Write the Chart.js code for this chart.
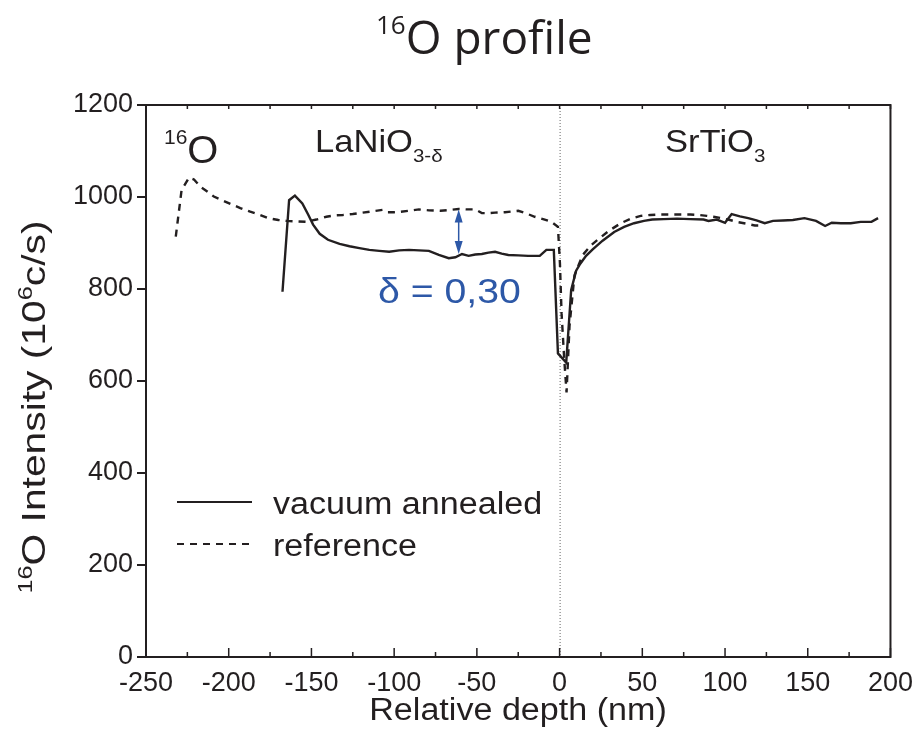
<!DOCTYPE html>
<html>
<head>
<meta charset="utf-8">
<script src="https://cdn.jsdelivr.net/npm/chart.js@4.4.0/dist/chart.umd.min.js"></script>
<style>
html, body { margin: 0; padding: 0; background: #fff; }
#wrap { width: 923px; height: 732px; position: relative; }
</style>
</head>
<body>
<div id="wrap"><canvas id="profileChart"></canvas></div>
<script>
// depth (nm) / 16O intensity (10^6 c/s)
const depth_vacuum = [-167.5, -163.5, -160, -155.5, -152, -149, -145, -140, -133, -127, -121, -115, -109, -103, -97, -91, -85, -79, -73, -67, -63, -59, -55, -51, -47, -43, -39, -35, -31, -25, -19, -12, -8, -3.5, -1, 4, 7, 10, 12.5, 16, 20, 26, 33, 39, 45, 51, 56, 63, 71, 79, 87, 90, 95, 100, 104, 109, 114, 119, 124, 129, 135, 141, 148, 155, 160.5, 164.5, 170, 176, 182, 188.5, 192.5];
const intensity_vacuum = [794, 993, 1003, 986, 962, 940, 920, 907, 898, 893, 889, 885, 883, 881, 884, 885, 884, 883, 874, 867, 869, 876, 872, 875, 876, 879, 881, 877, 874, 873, 872, 872, 885, 885, 660, 640, 798, 840, 855, 872, 886, 905, 924, 935, 943, 948, 951, 952, 953, 952, 951, 948, 951, 944, 963, 958, 954, 949, 943, 948, 949, 950, 954, 948, 937, 944, 943, 943, 946, 946, 954];

const depth_reference = [-232, -228.5, -224, -221, -217, -213, -209, -204, -199, -193, -187, -181, -176, -170, -165, -159, -153, -147, -141, -136, -131, -125, -119, -113, -107, -104, -100, -96, -91, -85, -79, -72, -66, -61, -56, -51, -47, -43, -39, -33, -25, -20, -15, -10, -5, -1, 0.2, 1.2, 2.7, 4.2, 6, 9, 14, 19, 24, 30, 37, 43, 49, 55, 61, 67, 73, 79, 84, 89, 93, 98, 103, 107, 113, 118, 122];
const intensity_reference = [914, 1015, 1042, 1038, 1022, 1012, 1001, 993, 985, 976, 968, 961, 954, 950, 948, 947, 946, 951, 957, 960, 961, 963, 966, 969, 972, 967, 967, 968, 970, 973, 971, 970, 972, 974, 973, 973, 965, 965, 966, 967, 970, 964, 957, 952, 946, 935, 856, 747, 653, 575, 720, 830, 874, 895, 910, 927, 943, 953, 959, 961, 962, 962, 962, 962, 961, 959, 957, 954, 950, 946, 942, 938, 938];

const x_ticks = [-250, -200, -150, -100, -50, 0, 50, 100, 150, 200];
const y_ticks = [0, 200, 400, 600, 800, 1000, 1200];

const series_labels = ['vacuum annealed', 'reference'];

const ink = '#231f20';
const blue = '#2d58a7';
const fontSans = "'Liberation Sans', Arial, sans-serif";

function richWidth(ctx, parts, family) {
    let w = 0;
    parts.forEach(p => {
        ctx.font = p.size + 'px ' + (p.family || family);
        w += ctx.measureText(p.t).width;
    });
    return w;
}

function drawRich(ctx, parts, x, y, opts) {
    const family = opts.family || fontSans;
    ctx.save();
    ctx.translate(x, y);
    if (opts.rotate) ctx.rotate(opts.rotate);
    ctx.scale(opts.stretch || 1, 1);
    const w = richWidth(ctx, parts, family);
    let cx = opts.align === 'center' ? -w / 2 : 0;
    ctx.fillStyle = opts.color || ink;
    ctx.textAlign = 'left';
    ctx.textBaseline = 'alphabetic';
    parts.forEach(p => {
        ctx.font = p.size + 'px ' + (p.family || family);
        ctx.fillText(p.t, cx, p.dy || 0);
        cx += ctx.measureText(p.t).width;
    });
    ctx.restore();
}

const framePlugin = {
    id: 'frame',
    beforeDatasetsDraw(chart) {
        const {ctx, chartArea: a, scales: {x}} = chart;
        // dotted interface line at depth 0
        const x0 = x.getPixelForValue(0);
        ctx.save();
        ctx.strokeStyle = '#666';
        ctx.lineWidth = 1;
        ctx.setLineDash([1, 2]);
        ctx.beginPath();
        ctx.moveTo(x0 + 0.5, a.top);
        ctx.lineTo(x0 + 0.5, a.bottom);
        ctx.stroke();
        ctx.restore();
    },
    afterDraw(chart) {
        const {ctx, chartArea: a, scales: {x, y}} = chart;
        ctx.save();
        ctx.strokeStyle = ink;
        ctx.lineWidth = 2;
        ctx.strokeRect(a.left, a.top, a.right - a.left, a.bottom - a.top);

        // inward ticks on the depth axis, top and bottom
        ctx.lineWidth = 1.5;
        for (let v = x.min; v <= x.max; v += 25) {
            const px = x.getPixelForValue(v);
            const major = v % 50 === 0;
            ctx.beginPath();
            ctx.moveTo(px, a.bottom);
            ctx.lineTo(px, a.bottom - (major ? 9 : 5));
            ctx.moveTo(px, a.top);
            ctx.lineTo(px, a.top + 4);
            ctx.stroke();
        }

        // double arrow showing delta
        const ax = x.getPixelForValue(-61);
        const ay1 = y.getPixelForValue(973);
        const ay2 = y.getPixelForValue(876);
        ctx.strokeStyle = blue;
        ctx.fillStyle = blue;
        ctx.lineWidth = 1.5;
        ctx.beginPath();
        ctx.moveTo(ax, ay1 + 6);
        ctx.lineTo(ax, ay2 - 6);
        ctx.stroke();
        ctx.beginPath();
        ctx.moveTo(ax, ay1);
        ctx.lineTo(ax - 4, ay1 + 13);
        ctx.lineTo(ax + 4, ay1 + 13);
        ctx.closePath();
        ctx.fill();
        ctx.beginPath();
        ctx.moveTo(ax, ay2);
        ctx.lineTo(ax - 4, ay2 - 13);
        ctx.lineTo(ax + 4, ay2 - 13);
        ctx.closePath();
        ctx.fill();
        ctx.restore();

        // title
        drawRich(ctx, [{t: '16', size: 26, dy: -20}, {t: 'O profile', size: 46}], 376, 54,
            {family: "'Open Sans', 'Noto Sans', sans-serif"});

        // axis titles
        drawRich(ctx, [{t: 'Relative depth (nm)', size: 31}], 518, 720, {align: 'center', stretch: 1.1});
        drawRich(ctx, [{t: '16', size: 21, dy: -13}, {t: 'O Intensity (10', size: 34}, {t: '6', size: 21, dy: -13}, {t: 'c/s)', size: 34}],
            45, 407, {align: 'center', rotate: -Math.PI / 2, stretch: 1.2});

        // labels inside the plot
        drawRich(ctx, [{t: '16', size: 20, dy: -19}, {t: 'O', size: 38}], 164, 163, {stretch: 1.05});
        drawRich(ctx, [{t: 'LaNiO', size: 32}, {t: '3-\u03b4', size: 19, dy: 10}], 315, 152, {stretch: 1.08});
        drawRich(ctx, [{t: 'SrTiO', size: 32}, {t: '3', size: 19, dy: 10}], 665, 152, {stretch: 1.08});
        drawRich(ctx, [{t: '\u03b4 = 0,30', size: 35}], 378, 303, {color: blue, stretch: 1.12});

        // legend
        chart.data.datasets.forEach((ds, i) => {
            const ly = 502 + i * 42;
            ctx.save();
            ctx.strokeStyle = ink;
            ctx.lineWidth = 2.2;
            ctx.setLineDash(ds.borderDash || []);
            ctx.beginPath();
            ctx.moveTo(177, ly);
            ctx.lineTo(252, ly);
            ctx.stroke();
            ctx.restore();
            drawRich(ctx, [{t: ds.label, size: 31}], 273, ly + 12, {stretch: 1.1});
        });
    }
};

new Chart(document.getElementById('profileChart'), {
    type: 'line',
    data: {
        datasets: [
            {
                label: series_labels[0],
                data: depth_vacuum.map((d, i) => ({x: d, y: intensity_vacuum[i]})),
                borderColor: ink,
                borderWidth: 2.4,
                pointRadius: 0,
                tension: 0,
                fill: false
            },
            {
                label: series_labels[1],
                data: depth_reference.map((d, i) => ({x: d, y: intensity_reference[i]})),
                borderColor: ink,
                borderWidth: 2.4,
                borderDash: [7, 6],
                pointRadius: 0,
                tension: 0,
                fill: false
            }
        ]
    },
    options: {
        responsive: true,
        maintainAspectRatio: false,
        animation: false,
        layout: {padding: {left: 0, right: 29, top: 105, bottom: 0}},
        plugins: {
            legend: {display: false},
            title: {display: false},
            tooltip: {enabled: false}
        },
        scales: {
            x: {
                type: 'linear',
                min: -250,
                max: 200,
                afterBuildTicks: s => { s.ticks = x_ticks.map(v => ({value: v})); },
                afterFit: s => { s.height = 75; },
                grid: {display: false, drawTicks: false},
                border: {display: false},
                ticks: {
                    color: ink,
                    autoSkip: false,
                    maxRotation: 0,
                    padding: 10,
                    callback: v => String(v),
                    font: {family: fontSans, size: 27}
                }
            },
            y: {
                min: 0,
                max: 1200,
                afterBuildTicks: s => { s.ticks = y_ticks.map(v => ({value: v})); },
                afterFit: s => { s.width = 146; },
                grid: {drawOnChartArea: false, drawTicks: true, tickLength: 9, color: ink, lineWidth: 2},
                border: {display: false},
                ticks: {
                    color: ink,
                    padding: 4,
                    callback: v => String(v),
                    font: {family: fontSans, size: 27}
                }
            }
        }
    },
    plugins: [framePlugin]
});
</script>
</body>
</html>
